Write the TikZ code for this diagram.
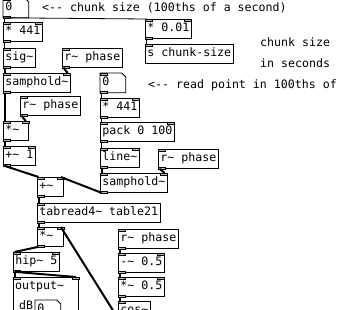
\documentclass[tikz,border=0pt]{standalone}
\usepackage{fontspec}
\setmonofont{DejaVu Sans Mono}
\newcommand{\pdtl}{\char"007E\relax}
\newcommand{\prtL}[1]{\draw[port] (#1.north west) rectangle ++(7pt,-2pt);}
\newcommand{\prtR}[1]{\draw[port] ([xshift=-7pt]#1.north east) rectangle ++(7pt,-2pt);}
\newcommand{\prtO}[1]{\draw[port] (#1.south west) rectangle ++(7pt,2pt);}
\newcommand{\nbframe}[1]{\draw[line width=0.8pt] (#1.north west) -- ([xshift=-4pt]#1.north east) -- ([yshift=-4pt]#1.north east) -- (#1.south east) -- (#1.south west) -- cycle;}
\tikzset{
  pd/.style={font=\ttfamily\fontsize{11.6pt}{13pt}\selectfont},
  obj/.style={pd, draw, line width=0.8pt, anchor=north west, minimum height=19pt,
    inner xsep=2pt, inner ysep=0pt, text height=8.5pt, text depth=2.5pt},
  numb/.style={obj, draw=none, text width=21pt, align=left},
  cmt/.style={pd, anchor=west, inner sep=0pt},
  cc/.style={line width=0.8pt},
  sc/.style={line width=2pt},
  port/.style={draw=black, fill=gray!55, line width=0.5pt},
}
\begin{document}
\begin{tikzpicture}[x=1pt, y=-1pt]
\fill[white] (0,0) rectangle (337,309);
\useasboundingbox (0,0) rectangle (337,309);
\clip (0,0) rectangle (337,309);

% objects
\node[numb] (n0) at (3,-2) {0};
\nbframe{n0}
\node[cmt] (c1) at (42,8) {<-- chunk size (100ths of a second)};
\node[obj] (m441a) at (3,22) {* 441};
\node[obj] (m001) at (145,19) {* 0.01};
\node[obj] (schunk) at (145,44) {s chunk-size};
\node[cmt] (c2) at (260,42) {chunk size};
\node[cmt] (c3) at (260,63) {in seconds};
\node[obj] (sigt) at (3,48) {sig\pdtl};
\node[obj] (rph1) at (62,48) {r\pdtl{} phase};
\node[obj] (samph1) at (3,73) {samphold\pdtl};
\node[numb] (n0b) at (100,73) {0};
\nbframe{n0b}
\node[cmt] (c4) at (148,85) {<-- read point in 100ths of};
\node[obj] (rph2) at (20,96) {r\pdtl{} phase};
\node[obj] (m441b) at (100,98) {* 441};
\node[obj, text width=21pt, align=left] (mul1) at (3,121) {*\pdtl};
\node[obj] (pack) at (100,122) {pack 0 100};
\node[obj] (add1) at (3,146) {+\pdtl{} 1};
\node[obj] (linet) at (100,148) {line\pdtl};
\node[obj] (rph3) at (158,149) {r\pdtl{} phase};
\node[obj] (samph2) at (100,173) {samphold\pdtl};
\node[obj, text width=22pt, align=left] (add2) at (37,177) {+\pdtl};
\node[obj] (tab) at (37,203) {tabread4\pdtl{} table21};
\node[obj, text width=22pt, align=left] (mul2) at (37,227) {*\pdtl};
\node[obj] (rph4) at (118,229) {r\pdtl{} phase};
\node[obj] (hip) at (13,252) {hip\pdtl{} 5};
\node[obj] (sub) at (118,253) {-\pdtl{} 0.5};
\node[obj] (mul3) at (118,277) {*\pdtl{} 0.5};
\node[obj] (cos) at (118,301) {cos\pdtl};
\node[draw, line width=0.8pt, anchor=north west, minimum width=65pt, minimum height=50pt, inner sep=0pt] (outg) at (13,277) {};
\node[cmt] (outlbl) at (15,287) {output\pdtl};
\node[cmt] (db) at (19,305) {dB};
\node[numb] (n0c) at (35,300) {0};
\nbframe{n0c}

% ports
\foreach \n in {n0,m441a,m001,schunk,sigt,rph1,samph1,n0b,rph2,m441b,mul1,pack,add1,linet,rph3,samph2,add2,tab,mul2,rph4,hip,sub,mul3,cos,outg} {\prtL{\n}}
\foreach \n in {m441a,m001,samph1,m441b,mul1,pack,add1,linet,samph2,add2,mul2,hip,sub,mul3,outg} {\prtR{\n}}
\foreach \n in {n0,m441a,m001,sigt,rph1,samph1,n0b,rph2,m441b,mul1,pack,add1,linet,rph3,samph2,add2,tab,mul2,rph4,hip,sub,mul3,cos} {\prtO{\n}}

% control cords
\draw[cc] ([xshift=1.5pt]n0.south west) -- ([xshift=1.5pt]m441a.north west);
\draw[cc] ([xshift=1.5pt]n0.south west) -- ([xshift=1.5pt]m001.north west);
\draw[cc] ([xshift=1.5pt]m001.south west) -- ([xshift=1.5pt]schunk.north west);
\draw[cc] ([xshift=1.5pt]m441a.south west) -- ([xshift=1.5pt]sigt.north west);
\draw[cc] ([xshift=1.5pt]n0b.south west) -- ([xshift=1.5pt]m441b.north west);
\draw[cc] ([xshift=1.5pt]m441b.south west) -- ([xshift=1.5pt]pack.north west);
\draw[cc] ([xshift=1.5pt]pack.south west) -- ([xshift=1.5pt]linet.north west);

% signal cords
\draw[sc] ([xshift=1.5pt]sigt.south west) -- ([xshift=1.5pt]samph1.north west);
\draw[sc] ([xshift=1.5pt]rph1.south west) -- ([xshift=-3pt]samph1.north east);
\draw[sc] ([xshift=1.5pt]samph1.south west) -- ([xshift=1.5pt]mul1.north west);
\draw[sc] ([xshift=1.5pt]rph2.south west) -- ([xshift=-3pt]mul1.north east);
\draw[sc] ([xshift=1.5pt]mul1.south west) -- ([xshift=1.5pt]add1.north west);
\draw[sc] ([xshift=1.5pt]add1.south west) -- ([xshift=1.5pt]add2.north west);
\draw[sc] ([xshift=1.5pt]samph2.south west) -- ([xshift=-3pt]add2.north east);
\draw[sc] ([xshift=1.5pt]linet.south west) -- ([xshift=1.5pt]samph2.north west);
\draw[sc] ([xshift=1.5pt]rph3.south west) -- ([xshift=-3pt]samph2.north east);
\draw[sc] ([xshift=1.5pt]add2.south west) -- ([xshift=1.5pt]tab.north west);
\draw[sc] ([xshift=1.5pt]tab.south west) -- ([xshift=1.5pt]mul2.north west);
\draw[sc] ([xshift=1.5pt]mul2.south west) -- ([xshift=1.5pt]hip.north west);
\draw[sc] ([xshift=1.5pt]cos.south west) -- ([xshift=-3pt]mul2.north east);
\draw[sc] ([xshift=1.5pt]hip.south west) -- ([xshift=1.5pt]outg.north west);
\draw[sc] ([xshift=1.5pt]hip.south west) -- ([xshift=-3pt]outg.north east);
\draw[sc] ([xshift=1.5pt]rph4.south west) -- ([xshift=1.5pt]sub.north west);
\draw[sc] ([xshift=1.5pt]sub.south west) -- ([xshift=1.5pt]mul3.north west);
\draw[sc] ([xshift=1.5pt]mul3.south west) -- ([xshift=1.5pt]cos.north west);
\end{tikzpicture}
\end{document}
